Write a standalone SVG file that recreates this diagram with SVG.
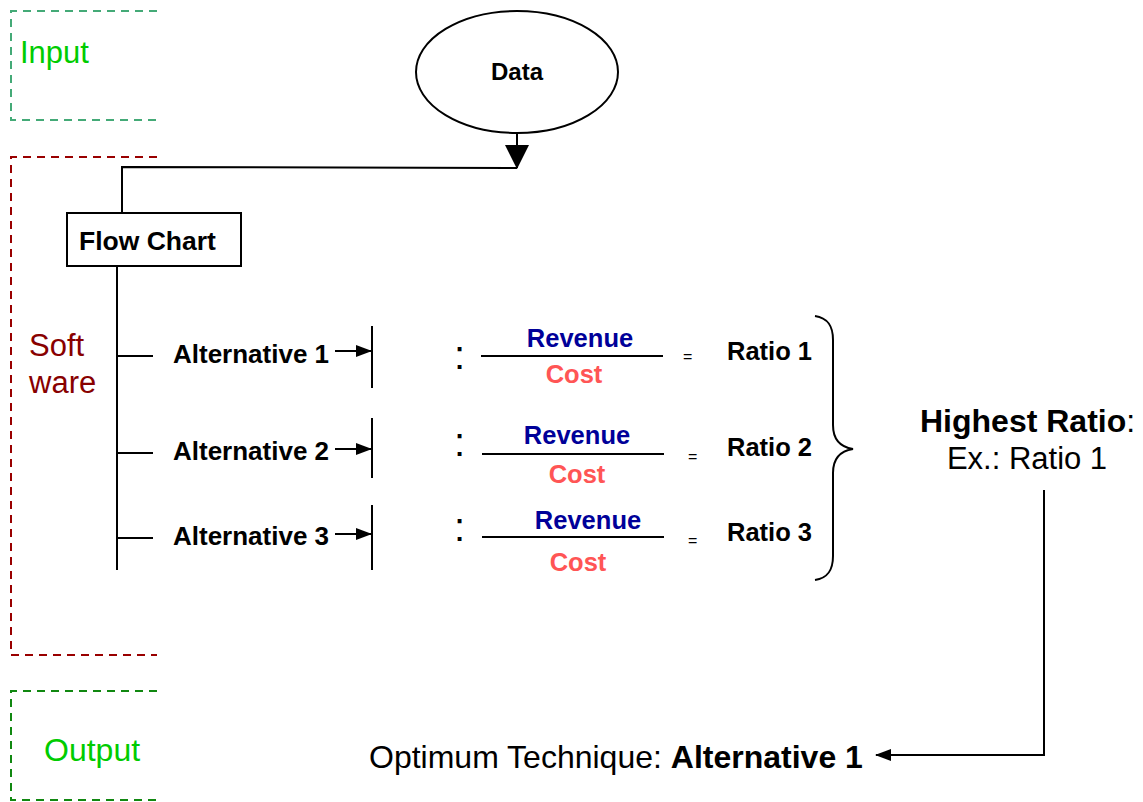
<svg xmlns="http://www.w3.org/2000/svg" width="1143" height="802" viewBox="0 0 1143 802">
<style>
text{font-family:"Liberation Sans",Arial,sans-serif}
.b{font-weight:bold;fill:#000}
.alt{font-size:26px;font-weight:bold;fill:#000}
.ratio{font-size:25.5px;font-weight:bold;fill:#000}
.rev{font-size:25.5px;font-weight:bold;fill:#000099;text-anchor:middle}
.cost{font-size:25.5px;font-weight:bold;fill:#ff5555;text-anchor:middle}
.eq{font-size:16px;fill:#000}
.col{font-size:40px;fill:#000}
.ln{stroke:#000;stroke-width:2;fill:none}
.zone{fill:none;stroke-width:2;stroke-dasharray:8,6}
</style>
<defs>
<marker id="ah" markerWidth="16" markerHeight="14" refX="15" refY="7" orient="auto" markerUnits="userSpaceOnUse">
<path d="M0,1 L16,7 L0,13 Z" fill="#000"/>
</marker>
<marker id="ahs" markerWidth="24" markerHeight="26" refX="23" refY="12" orient="auto" markerUnits="userSpaceOnUse">
<path d="M0,0 L24,12 L0,24 Z" fill="#000"/>
</marker>
</defs>

<g id="zone-input">
<path class="zone" stroke="#44aa77" d="M157,11 H11 V120 H157"/>
<text x="20" y="63" font-size="31" fill="#00cc00">Input</text>
</g>
<g id="zone-software">
<path class="zone" stroke="#990000" d="M157,157 H11 V655 H157"/>
<text x="29" y="356" font-size="31" fill="#880000">Soft</text>
<text x="29" y="393" font-size="31" fill="#880000">ware</text>
</g>
<g id="zone-output">
<path class="zone" stroke="#118811" d="M157,691 H11 V800 H157"/>
<text x="44" y="761" font-size="32" fill="#00cc00">Output</text>
</g>

<g id="data">
<ellipse cx="517" cy="72" rx="101" ry="61" fill="#fff" stroke="#000" stroke-width="2"/>
<text x="517" y="80" class="b" font-size="24" text-anchor="middle">Data</text>
</g>

<g id="flowchart">
<rect x="67" y="213" width="174" height="53" fill="#fff" stroke="#000" stroke-width="2"/>
<text x="79" y="250" class="b" font-size="26.5">Flow Chart</text>
</g>

<g id="alt1">
<text x="173" y="363" class="alt">Alternative 1</text>
</g>
<g id="alt2">
<text x="173" y="460" class="alt">Alternative 2</text>
</g>
<g id="alt3">
<text x="173" y="545" class="alt">Alternative 3</text>
</g>

<g id="frac1">
<line class="ln" x1="372" y1="326" x2="372" y2="388"/>
<text x="454" y="369" class="col">:</text>
<line class="ln" x1="481" y1="356" x2="663" y2="356"/>
<text x="580" y="347" class="rev">Revenue</text>
<text x="574" y="383" class="cost">Cost</text>
<text x="683" y="362" class="eq">=</text>
<text x="727" y="360" class="ratio">Ratio 1</text>
</g>
<g id="frac2">
<line class="ln" x1="372" y1="418" x2="372" y2="478"/>
<text x="454" y="456" class="col">:</text>
<line class="ln" x1="482" y1="454" x2="664" y2="454"/>
<text x="577" y="444" class="rev">Revenue</text>
<text x="577" y="483" class="cost">Cost</text>
<text x="688" y="462" class="eq">=</text>
<text x="727" y="456" class="ratio">Ratio 2</text>
</g>
<g id="frac3">
<line class="ln" x1="372" y1="505" x2="372" y2="570"/>
<text x="454" y="541" class="col">:</text>
<line class="ln" x1="482" y1="537" x2="664" y2="537"/>
<text x="588" y="529" class="rev">Revenue</text>
<text x="578" y="571" class="cost">Cost</text>
<text x="688" y="546" class="eq">=</text>
<text x="727" y="541" class="ratio">Ratio 3</text>
</g>

<g id="brace">
<path class="ln" d="M815,316 C828,318 833,326 833,340 V425 C833,440 840,447 853,449 C840,451 833,458 833,473 V556 C833,570 828,578 815,580"/>
</g>

<g id="highest">
<text x="920" y="432" font-size="32"><tspan class="b">Highest Ratio</tspan><tspan fill="#000">:</tspan></text>
<text x="1027" y="469" font-size="31" fill="#000" text-anchor="middle">Ex.: Ratio 1</text>
</g>

<g id="optimum">
<text x="369" y="768" font-size="32" fill="#000">Optimum Technique: <tspan font-weight="bold">Alternative 1</tspan></text>
</g>

<g id="connectors">
<line class="ln" x1="517" y1="133" x2="517" y2="168" marker-end="url(#ahs)"/>
<polyline class="ln" points="517,168 122,167 122,213"/>
<line class="ln" x1="117" y1="266" x2="117" y2="570"/>
<line class="ln" x1="117" y1="356" x2="153" y2="356"/>
<line class="ln" x1="117" y1="453" x2="153" y2="453"/>
<line class="ln" x1="117" y1="538" x2="153" y2="538"/>
<line class="ln" x1="335" y1="351" x2="371" y2="351" marker-end="url(#ah)"/>
<line class="ln" x1="335" y1="449" x2="371" y2="449" marker-end="url(#ah)"/>
<line class="ln" x1="335" y1="534" x2="371" y2="534" marker-end="url(#ah)"/>
<polyline class="ln" points="1044,490 1044,755 876,755" marker-end="url(#ah)"/>
</g>
</svg>
